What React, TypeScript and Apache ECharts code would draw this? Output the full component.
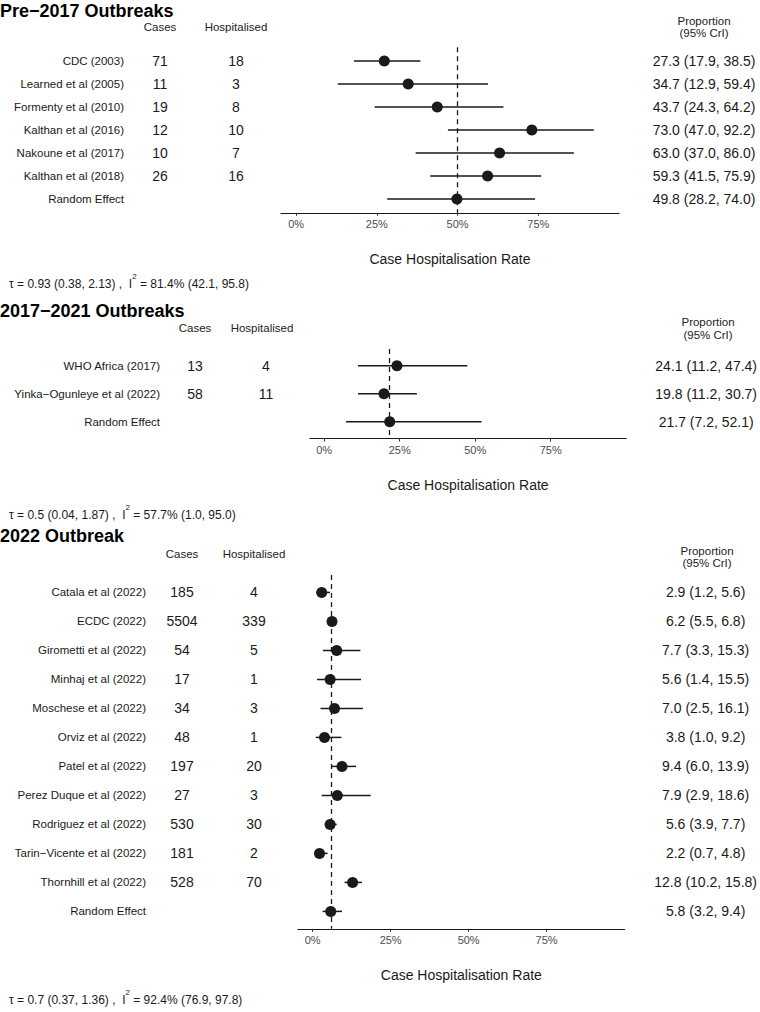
import React, { useEffect, useRef } from "react";
import * as echarts from "echarts";

// ---------------- DATA ----------------
const p1Title = "Pre\u22122017 Outbreaks";
const p1Names = ["CDC (2003)", "Learned et al (2005)", "Formenty et al (2010)", "Kalthan et al (2016)", "Nakoune et al (2017)", "Kalthan et al (2018)", "Random Effect"];
const p1Cases = ["71", "11", "19", "12", "10", "26", ""];
const p1Hosp = ["18", "3", "8", "10", "7", "16", ""];
const p1Est = [27.3, 34.7, 43.7, 73.0, 63.0, 59.3, 49.8];
const p1Lo = [17.9, 12.9, 24.3, 47.0, 37.0, 41.5, 28.2];
const p1Hi = [38.5, 59.4, 64.2, 92.2, 86.0, 75.9, 74.0];
const p1Tau = ["0.93 (0.38, 2.13)", "81.4% (42.1, 95.8)"];

const p2Title = "2017\u22122021 Outbreaks";
const p2Names = ["WHO Africa (2017)", "Yinka\u2212Ogunleye et al (2022)", "Random Effect"];
const p2Cases = ["13", "58", ""];
const p2Hosp = ["4", "11", ""];
const p2Est = [24.1, 19.8, 21.7];
const p2Lo = [11.2, 11.2, 7.2];
const p2Hi = [47.4, 30.7, 52.1];
const p2Tau = ["0.5 (0.04, 1.87)", "57.7% (1.0, 95.0)"];

const p3Title = "2022 Outbreak";
const p3Names = ["Catala et al (2022)", "ECDC (2022)", "Girometti et al (2022)", "Minhaj et al (2022)", "Moschese et al (2022)", "Orviz et al (2022)", "Patel et al (2022)", "Perez Duque et al (2022)", "Rodriguez et al (2022)", "Tarin\u2212Vicente et al (2022)", "Thornhill et al (2022)", "Random Effect"];
const p3Cases = ["185", "5504", "54", "17", "34", "48", "197", "27", "530", "181", "528", ""];
const p3Hosp = ["4", "339", "5", "1", "3", "1", "20", "3", "30", "2", "70", ""];
const p3Est = [2.9, 6.2, 7.7, 5.6, 7.0, 3.8, 9.4, 7.9, 5.6, 2.2, 12.8, 5.8];
const p3Lo = [1.2, 5.5, 3.3, 1.4, 2.5, 1.0, 6.0, 2.9, 3.9, 0.7, 10.2, 3.2];
const p3Hi = [5.6, 6.8, 15.3, 15.5, 16.1, 9.2, 13.9, 18.6, 7.7, 4.8, 15.8, 9.4];
const p3Tau = ["0.7 (0.37, 1.36)", "92.4% (76.9, 97.8)"];

const xTicks = [0, 25, 50, 75];
const xAxisTitle = "Case Hospitalisation Rate";
const headCases = "Cases";
const headHosp = "Hospitalised";
const headProp1 = "Proportion";
const headProp2 = "(95% CrI)";

// ---------------- LAYOUT ----------------
const FONT = "Liberation Sans";
const INK = "#1a1a1a";

const panels = [
  {
    title: p1Title, names: p1Names, cases: p1Cases, hosp: p1Hosp, est: p1Est, lo: p1Lo, hi: p1Hi, tau: p1Tau,
    L: { left: 281, right: 141, top: 47.2, spacing: 23, mName: 157, mCases: 121, mHosp: 45, mVal: 85,
      casesX: 160, hospX: 236, headY: 27, propX: 704, propY1: 21, propY2: 33, titleY: 11, tauY: 281 },
  },
  {
    title: p2Title, names: p2Names, cases: p2Cases, hosp: p2Hosp, est: p2Est, lo: p2Lo, hi: p2Hi, tau: p2Tau,
    L: { left: 310, right: 132, top: 349, spacing: 28, mName: 150, mCases: 115, mHosp: 44, mVal: 80,
      casesX: 195, hospX: 262, headY: 328, propX: 708, propY1: 322, propY2: 335, titleY: 311, tauY: 512 },
  },
  {
    title: p3Title, names: p3Names, cases: p3Cases, hosp: p3Hosp, est: p3Est, lo: p3Lo, hi: p3Hi, tau: p3Tau,
    L: { left: 298, right: 135, top: 575, spacing: 29, mName: 152, mCases: 116, mHosp: 44, mVal: 81,
      casesX: 182, hospX: 254, headY: 554, propX: 707, propY1: 551, propY2: 563, titleY: 536, tauY: 997 },
  },
];

function fmt(v: number) {
  return v.toFixed(1);
}

function buildOption() {
  const grid: any[] = [];
  const xAxis: any[] = [];
  const yAxis: any[] = [];
  const series: any[] = [];
  const title: any[] = [];

  const textTitle = (text: string, x: number, y: number, align: string, style: any) => ({
    text,
    left: x,
    top: y,
    padding: 0,
    textAlign: align,
    textVerticalAlign: "middle",
    textStyle: { fontFamily: FONT, fontWeight: "normal", color: INK, ...style },
  });

  panels.forEach((p, gi) => {
    const L = p.L;
    const n = p.names.length;
    const height = (n - 1 + 1.2) * L.spacing;
    grid.push({ left: L.left, right: L.right, top: L.top, height, containLabel: false });

    xAxis.push({
      gridIndex: gi,
      type: "value",
      min: -4.7,
      max: 100,
      name: xAxisTitle,
      nameLocation: "middle",
      nameGap: 39,
      nameTextStyle: { fontFamily: FONT, fontSize: 14, color: INK },
      axisLine: { show: true, onZero: false, lineStyle: { color: INK, width: 1.2 } },
      axisTick: { show: true, length: 3, customValues: xTicks, lineStyle: { color: "#333", width: 1 } },
      axisLabel: {
        customValues: xTicks,
        formatter: (v: number) => `${v}%`,
        fontFamily: FONT,
        fontSize: 11,
        color: "#4d4d4d",
        margin: 6,
      },
      splitLine: { show: false },
    });

    const rows = p.names.map((_, i) => i);
    const baseY = yAxis.length;
    const mkY = (position: string, margin: number, align: string, fontSize: number, labels: string[]) => ({
      gridIndex: gi,
      type: "value",
      position,
      min: -0.6,
      max: n - 1 + 0.6,
      inverse: true,
      axisLine: { show: false },
      axisTick: { show: false },
      splitLine: { show: false },
      axisLabel: {
        customValues: rows,
        formatter: (v: number) => labels[Math.round(v)] ?? "",
        margin,
        align,
        fontFamily: FONT,
        fontSize,
        color: INK,
      },
    });
    const vals = p.est.map((e, i) => `${fmt(e)} (${fmt(p.lo[i])}, ${fmt(p.hi[i])})`);
    yAxis.push(mkY("left", L.mName, "right", 11.5, p.names));
    yAxis.push(mkY("left", L.mCases, "center", 14, p.cases));
    yAxis.push(mkY("left", L.mHosp, "center", 14, p.hosp));
    yAxis.push(mkY("right", L.mVal, "center", 14, vals));

    series.push({
      type: "custom",
      xAxisIndex: gi,
      yAxisIndex: baseY,
      encode: { x: [0, 1], y: 2 },
      data: p.lo.map((lo, i) => [lo, p.hi[i], i]),
      renderItem: (params: any, api: any) => {
        const a = api.coord([api.value(0), api.value(2)]);
        const b = api.coord([api.value(1), api.value(2)]);
        return {
          type: "line",
          shape: { x1: a[0], y1: a[1], x2: b[0], y2: b[1] },
          style: { stroke: INK, lineWidth: 1.5 },
        };
      },
      z: 3,
    });

    series.push({
      type: "scatter",
      xAxisIndex: gi,
      yAxisIndex: baseY,
      data: p.est.map((e, i) => [e, i]),
      symbol: "circle",
      symbolSize: 11,
      itemStyle: { color: INK, opacity: 1 },
      z: 4,
      markLine: {
        silent: true,
        symbol: "none",
        label: { show: false },
        lineStyle: { color: INK, type: [5, 4], width: 1.3, opacity: 1 },
        data: [{ xAxis: p.est[n - 1] }],
        z: 2,
      },
    });

    // texts
    title.push(textTitle(p.title, 0, L.titleY, "left", { fontSize: 18, fontWeight: "bold", color: "#000" }));
    title.push(textTitle(headCases, L.casesX, L.headY, "center", { fontSize: 11.5, color: "#222" }));
    title.push(textTitle(headHosp, L.hospX, L.headY, "center", { fontSize: 11.5, color: "#222" }));
    title.push(textTitle(headProp1, L.propX, L.propY1, "center", { fontSize: 11.5, color: "#222" }));
    title.push(textTitle(headProp2, L.propX, L.propY2, "center", { fontSize: 11.5, color: "#222" }));
    title.push({
      text: `{n|\u03c4 = ${p.tau[0]} ,  I}{s|2}{n| = ${p.tau[1]}}`,
      left: 9,
      top: L.tauY,
      padding: 0,
      textAlign: "left",
      textVerticalAlign: "middle",
      textStyle: {
        fontFamily: FONT,
        fontWeight: "normal",
        color: INK,
        rich: {
          n: { fontFamily: FONT, fontSize: 12, color: INK, lineHeight: 17, verticalAlign: "bottom" },
          s: { fontFamily: FONT, fontSize: 8, color: INK, lineHeight: 7, verticalAlign: "top" },
        },
      },
    });
  });

  return {
    animation: false,
    backgroundColor: "#ffffff",
    textStyle: { fontFamily: FONT },
    title,
    grid,
    xAxis,
    yAxis,
    series,
  };
}

export default function App() {
  const ref = useRef<HTMLDivElement>(null);
  useEffect(() => {
    document.body.style.margin = "0";
    const chart = echarts.init(ref.current!, null, { renderer: "svg" });
    chart.setOption(buildOption() as any);
    return () => chart.dispose();
  }, []);
  return <div ref={ref} style={{ width: 760, height: 1012 }} />;
}
